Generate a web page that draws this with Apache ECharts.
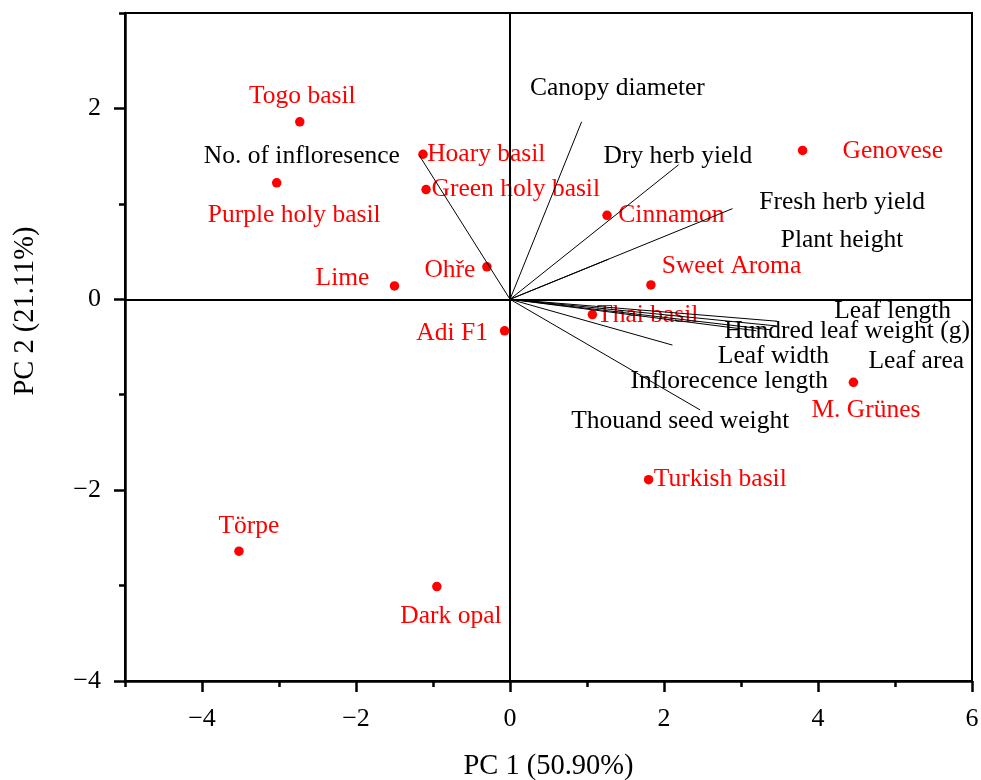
<!DOCTYPE html>
<html><head><meta charset="utf-8">
<script src="https://cdn.jsdelivr.net/npm/echarts@6/dist/echarts.min.js"></script>
<style>html,body{margin:0;padding:0;background:#fff}#c{width:981px;height:780px}</style>
</head><body><div id="c"></div>
<script>
// ---- data ----
const cultivarNames = ['Togo basil','Purple holy basil','Hoary basil','Green holy basil','Ohře','Lime','Cinnamon','Sweet Aroma','Genovese','Thai basil','Adi F1','M. Grünes','Turkish basil','Törpe','Dark opal'];
const cultivarPC1 = [-2.73,-3.03,-1.13,-1.09,-0.30,-1.50,1.26,1.83,3.80,1.07,-0.07,4.46,1.80,-3.52,-0.95];
const cultivarPC2 = [1.86,1.22,1.52,1.15,0.34,0.14,0.88,0.15,1.56,-0.16,-0.33,-0.87,-1.89,-2.64,-3.01];

const variableNames = ['No. of infloresence','Canopy diameter','Dry herb yield','Fresh herb yield','Plant height','Leaf length','Hundred leaf weight (g)','Leaf area','Leaf width','Inflorecence length','Thouand seed weight'];
const variablePC1 = [-1.18,0.93,2.19,2.89,1.28,3.47,3.47,3.38,3.20,2.11,2.47];
const variablePC2 = [1.51,1.86,1.41,0.95,0.42,-0.23,-0.28,-0.32,-0.33,-0.48,-1.16];

const xMajorTicks = [-4,-2,0,2,4,6];
const xMinorTicks = [-5,-3,-1,1,3,5];
const yMajorTicks = [-4,-2,0,2];
const yMinorTicks = [-3,-1,1,3];
const xTitle = 'PC 1 (50.90%)';
const yTitle = 'PC 2 (21.11%)';

// ---- label placement (pixel offsets from each mark; styling only) ----
const cultivarLabelOffset = {
  'Togo basil':[2.5,-25], 'Purple holy basil':[17.5,32], 'Hoary basil':[63.3,0], 'Green holy basil':[89.7,0],
  'Ohře':[-37,3.3], 'Lime':[-52,-7.7], 'Cinnamon':[64.4,0], 'Sweet Aroma':[80.6,-18.3], 'Genovese':[90.2,1.3],
  'Thai basil':[55.3,0.7], 'Adi F1':[-52.5,2.3], 'M. Grünes':[12.5,28.4], 'Turkish basil':[71.7,0],
  'Törpe':[10,-24.7], 'Dark opal':[14.1,29.7]
};
const variableLabelOffset = {
  'No. of infloresence':[-117.3,1], 'Canopy diameter':[35.8,-33.3], 'Dry herb yield':[-0.8,-8],
  'Fresh herb yield':[109.7,-6.3], 'Plant height':[233.4,-19.3], 'Leaf length':[115.5,-10],
  'Hundred leaf weight (g)':[70,5.5], 'Leaf area':[146,31.5], 'Leaf width':[17,26],
  'Inflorecence length':[56.8,36], 'Thouand seed weight':[-20,11.5]
};

const FONT = '"Liberation Serif", "Times New Roman", serif';
const BLACK = '#000';
const RED = '#ff0000';
const minusFmt = v => String(v).replace('-', '\u2212');

function makeAxes(min, max, major, minor, isX) {
  const main = {
    type:'value', min:min, max:max, interval:1,
    position: isX ? 'bottom' : 'left',
    axisLine:{show:true, onZero:false, lineStyle:{color:BLACK, width:2.5}},
    axisTick:{show:true, inside:false, customValues:major, length:11, lineStyle:{color:BLACK, width:2.5}},
    axisLabel:{show:true, customValues:major, formatter:minusFmt, fontFamily:FONT, fontSize:26, color:BLACK, margin: isX ? 25 : 24},
    splitLine:{show:false},
    name: isX ? xTitle : yTitle,
    nameLocation:'middle',
    nameGap: isX ? 71 : 85,
    nameTextStyle:{fontFamily:FONT, fontSize:28.5, color:BLACK, padding: isX ? 0 : [0,0,0,72]}
  };
  const minorAxis = {
    type:'value', min:min, max:max, interval:1,
    position: isX ? 'bottom' : 'left',
    axisLine:{show:false, onZero:false},
    axisTick:{show:true, inside:false, customValues:minor, length:6, lineStyle:{color:BLACK, width:2.5}},
    axisLabel:{show:false},
    splitLine:{show:false}
  };
  return [main, minorAxis];
}

const chart = echarts.init(document.getElementById('c'), null, {renderer:'canvas'});
chart.setOption({
  animation:false,
  backgroundColor:'#fff',
  grid:{left:125, right:9, top:13, bottom:99, show:true, borderColor:BLACK, borderWidth:2, backgroundColor:'transparent',
        containLabel:false, outerBoundsMode:'none'},
  xAxis: makeAxes(-5, 6, xMajorTicks, xMinorTicks, true),
  yAxis: makeAxes(-4, 3, yMajorTicks, yMinorTicks, false),
  series:[
    {
      type:'scatter', name:'cultivars', xAxisIndex:0, yAxisIndex:0, z:3,
      symbol:'circle', symbolSize:9.5,
      itemStyle:{color:RED, opacity:1},
      label:{show:true, position:'inside', formatter:'{b}', color:RED, opacity:1, fontFamily:FONT, fontSize:25.5},
      data: cultivarNames.map((n,i)=>({name:n, value:[cultivarPC1[i], cultivarPC2[i]], label:{offset:cultivarLabelOffset[n]}})),
      markLine:{
        silent:true, symbol:['none','none'], label:{show:false},
        lineStyle:{color:BLACK, width:2, type:'solid', opacity:1},
        emphasis:{disabled:true},
        data:[{xAxis:0},{yAxis:0}]
      }
    },
    {
      type:'scatter', name:'loadingLabels', xAxisIndex:0, yAxisIndex:0, z:2,
      symbol:'circle', symbolSize:1,
      itemStyle:{color:'rgba(0,0,0,0)'},
      label:{show:true, position:'inside', formatter:'{b}', color:BLACK, opacity:1, fontFamily:FONT, fontSize:25.5},
      data: variableNames.map((n,i)=>({name:n, value:[variablePC1[i], variablePC2[i]], label:{offset:variableLabelOffset[n]}}))
    },
    {
      type:'lines', name:'loadings', coordinateSystem:'cartesian2d', xAxisIndex:0, yAxisIndex:0, z:5,
      lineStyle:{color:BLACK, width:1, opacity:1},
      data: variableNames.map((n,i)=>({coords:[[0,0],[variablePC1[i], variablePC2[i]]]}))
    }
  ]
});
</script>
</body></html>
